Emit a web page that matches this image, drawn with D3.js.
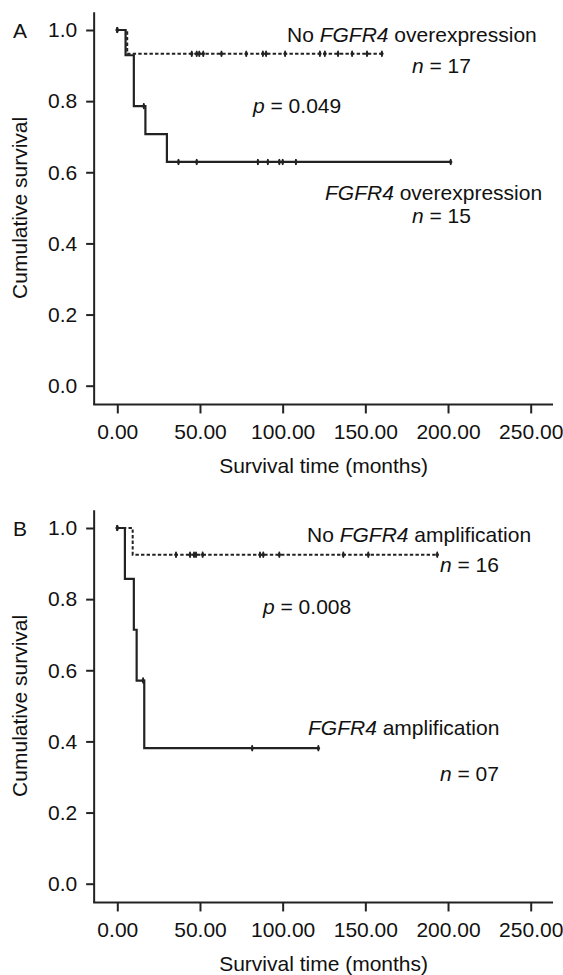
<!DOCTYPE html>
<html>
<head>
<meta charset="utf-8">
<script src="https://cdn.jsdelivr.net/npm/d3@7"></script>
<style>
  html, body { margin: 0; padding: 0; background: #fff; }
  svg text { font-family: "Liberation Sans", Arial, Helvetica, sans-serif; fill: #111; }
</style>
</head>
<body>
<svg id="chart" width="563" height="975"></svg>
<script>
// ---------- DATA ----------
const xTicks = [0, 50, 100, 150, 200, 250];
const yTicks = [0, 0.2, 0.4, 0.6, 0.8, 1.0];

// Panel A – FGFR4 overexpression (solid, n = 15)
const aOverTimes = [0, 5, 10, 17, 30, 201.6];
const aOverSurv  = [1, 0.929, 0.786, 0.707, 0.629, 0.629];
const aOverCensor = [0, 16, 37, 48, 85, 91, 98, 100, 108, 201.6];

// Panel A – No FGFR4 overexpression (dashed, n = 17)
const aNoTimes = [0, 6, 160];
const aNoSurv  = [1, 0.933, 0.933];
const aNoCensor = [0, 45, 48, 49.6, 52, 63, 78, 88, 90, 101.5, 122.5, 125.5, 133.5, 142, 151, 160];

// Panel B – FGFR4 amplification (solid, n = 7)
const bAmpTimes = [0, 4.6, 10, 11.7, 16.3, 121.6];
const bAmpSurv  = [1, 0.857, 0.714, 0.571, 0.381, 0.381];
const bAmpCensor = [0, 15.6, 81.6, 121.6];

// Panel B – No FGFR4 amplification (dashed, n = 16)
const bNoTimes = [0, 9.3, 193.5];
const bNoSurv  = [1, 0.925, 0.925];
const bNoCensor = [0, 35.5, 44, 46.4, 47.6, 51.6, 86.3, 88.3, 98, 136.7, 151.8, 193.5];

const panels = [
  { letter: "A", p: "0.049",
    solid: { times: aOverTimes, surv: aOverSurv, censor: aOverCensor },
    dashed: { times: aNoTimes, surv: aNoSurv, censor: aNoCensor },
    labels: [
      { parts: [["No ", false], ["FGFR4", true], [" overexpression", false]], x: 287, y: 42 },
      { parts: [["n", true], [" = 17", false]], x: 412, y: 73 },
      { parts: [["p", true], [" = 0.049", false]], x: 253, y: 113 },
      { parts: [["FGFR4", true], [" overexpression", false]], x: 325, y: 200 },
      { parts: [["n", true], [" = 15", false]], x: 412, y: 223 }
    ] },
  { letter: "B", p: "0.008",
    solid: { times: bAmpTimes, surv: bAmpSurv, censor: bAmpCensor },
    dashed: { times: bNoTimes, surv: bNoSurv, censor: bNoCensor },
    labels: [
      { parts: [["No ", false], ["FGFR4", true], [" amplification", false]], x: 307, y: 44 },
      { parts: [["n", true], [" = 16", false]], x: 440, y: 74 },
      { parts: [["p", true], [" = 0.008", false]], x: 263, y: 116 },
      { parts: [["FGFR4", true], [" amplification", false]], x: 308, y: 237 },
      { parts: [["n", true], [" = 07", false]], x: 440, y: 283 }
    ] }
];

// ---------- DRAW ----------
const svg = d3.select("#chart");
svg.append("rect").attr("width", 563).attr("height", 975).attr("fill", "#fff");

const FS = 21;
const ink = "#222";
const x = d3.scaleLinear().domain([0, 250]).range([117.3, 530.7]);
const y = d3.scaleLinear().domain([0, 1]).range([385.7, 30]);
const xMin = -14, xMax = 263.5, yBottom = -0.0527, yTop = 1.05;

function survAt(times, surv, t) {
  let v = surv[0];
  for (let i = 0; i < times.length; i++) if (times[i] <= t) v = surv[i];
  return v;
}

panels.forEach((P, pi) => {
  const g = svg.append("g").attr("transform", `translate(0,${pi * 498})`);

  // axis lines
  g.append("line").attr("x1", x(xMin)).attr("x2", x(xMin))
    .attr("y1", y(yTop)).attr("y2", y(yBottom))
    .attr("stroke", ink).attr("stroke-width", 2);
  g.append("line").attr("x1", x(xMin) - 1).attr("x2", x(xMax))
    .attr("y1", y(yBottom)).attr("y2", y(yBottom))
    .attr("stroke", ink).attr("stroke-width", 2);

  // y axis
  const yAxis = g.append("g").attr("transform", `translate(${x(xMin)},0)`)
    .call(d3.axisLeft(y).tickValues(yTicks).tickFormat(d3.format(".1f")).tickSize(8).tickPadding(9));
  yAxis.select(".domain").remove();
  yAxis.selectAll(".tick line").attr("stroke", ink).attr("stroke-width", 2);
  yAxis.selectAll(".tick text").attr("font-size", FS).attr("font-family", null).attr("fill", "#111");

  // x axis
  const xAxis = g.append("g").attr("transform", `translate(0,${y(yBottom)})`)
    .call(d3.axisBottom(x).tickValues(xTicks).tickFormat(d3.format(".2f")).tickSize(9).tickPadding(11));
  xAxis.select(".domain").remove();
  xAxis.selectAll(".tick line").attr("stroke", ink).attr("stroke-width", 2);
  xAxis.selectAll(".tick text").attr("font-size", FS).attr("font-family", null).attr("fill", "#111");

  // axis titles
  g.append("text").attr("x", (x(xMin) + x(xMax)) / 2).attr("y", 473)
    .attr("text-anchor", "middle").attr("font-size", FS).text("Survival time (months)");
  g.append("text").attr("transform", `translate(27,${(y(0) + y(1)) / 2}) rotate(-90)`)
    .attr("text-anchor", "middle").attr("font-size", FS).text("Cumulative survival");

  // panel letter
  g.append("text").attr("x", 13).attr("y", y(1) + 7.5).attr("font-size", FS).text(P.letter);

  // curves
  const line = d3.line().x(d => x(d[0])).y(d => y(d[1])).curve(d3.curveStepAfter);
  [["dashed", "3.4,2.2"], ["solid", null]].forEach(([key, dash]) => {
    const s = P[key];
    const pts = s.times.map((t, i) => [t, s.surv[i]]);
    g.append("path").attr("d", line(pts)).attr("fill", "none")
      .attr("stroke", ink).attr("stroke-width", key === "solid" ? 2.2 : 2)
      .attr("stroke-dasharray", dash);
    const cg = g.append("g");
    s.censor.forEach(t => {
      const v = survAt(s.times, s.surv, t);
      cg.append("line").attr("x1", x(t)).attr("x2", x(t))
        .attr("y1", y(v) - 3).attr("y2", y(v) + 3)
        .attr("stroke", ink).attr("stroke-width", 1.6);
      cg.append("path").attr("d", d3.symbol(d3.symbolDiamond, 12)())
        .attr("transform", `translate(${x(t)},${y(v)})`).attr("fill", ink);
    });
  });

  // annotations
  P.labels.forEach(L => {
    const t = g.append("text").attr("x", L.x).attr("y", L.y).attr("font-size", FS);
    L.parts.forEach(([s, it]) => {
      t.append("tspan").attr("font-style", it ? "italic" : "normal").text(s);
    });
  });
});
</script>
</body>
</html>
